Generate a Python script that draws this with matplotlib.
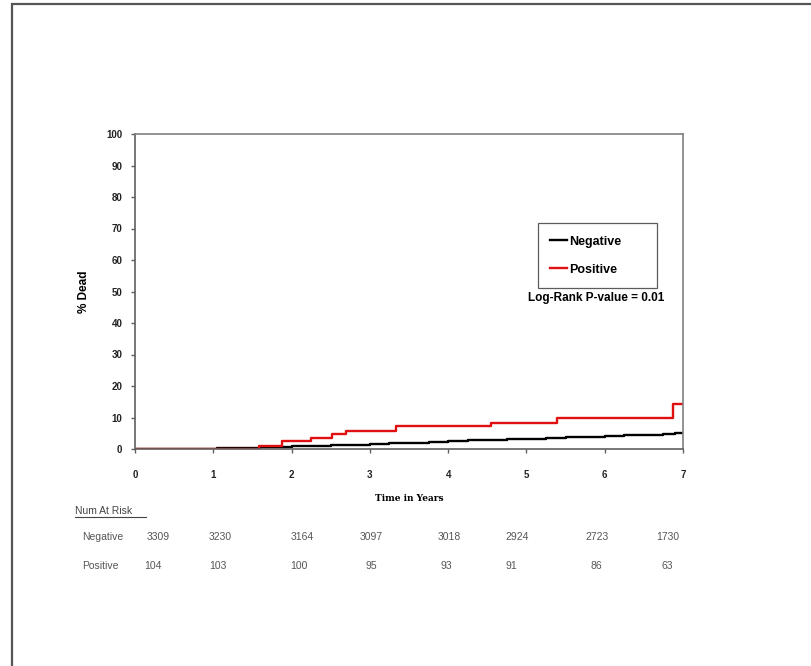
import matplotlib
matplotlib.use('Agg')
import matplotlib.pyplot as plt
from matplotlib.patches import Rectangle

plt.rcParams['font.family'] = ['Liberation Sans', 'DejaVu Sans']

# Cumulative % dead, step curves (time in years, value after the step)
neg_times = [0, 1.05, 1.6, 1.75, 2.0, 2.25, 2.5, 2.75, 3.0, 3.25, 3.5, 3.75, 4.0,
             4.25, 4.5, 4.75, 5.0, 5.25, 5.5, 5.75, 6.0, 6.25, 6.5, 6.75, 6.9, 7.0]
neg_dead = [0, 0.4, 0.5, 0.6, 0.8, 1.0, 1.2, 1.4, 1.6, 1.8, 2.0, 2.3, 2.5,
            2.7, 2.9, 3.1, 3.3, 3.5, 3.7, 3.9, 4.2, 4.4, 4.6, 4.8, 5.0, 5.0]
pos_times = [0, 1.59, 1.88, 2.25, 2.52, 2.70, 3.34, 4.55, 5.39, 6.87, 7.0]
pos_dead = [0, 1.1, 2.5, 3.6, 4.7, 5.8, 7.2, 8.4, 10.0, 14.2, 14.2]

years = [0, 1, 2, 3, 4, 5, 6, 7]
neg_at_risk = [3309, 3230, 3164, 3097, 3018, 2924, 2723, 1730]
pos_at_risk = [104, 103, 100, 95, 93, 91, 86, 63]

W, H = 812, 666
fig = plt.figure(figsize=(W / 100, H / 100), dpi=100)

# page frame (open to the right and bottom, like a cropped page)
fig.patches.append(Rectangle((12 / W, -0.05), 1.05, 1.05 - 4 / H, transform=fig.transFigure,
                             fill=False, edgecolor='#555555', linewidth=1.6))

ax = fig.add_axes([135 / W, (H - 449) / H, 548 / W, 315 / H])
ax.step(neg_times, neg_dead, where='post', color='black', linewidth=1.7, label='Negative')
ax.step(pos_times, pos_dead, where='post', color='#e01010', linewidth=1.7, label='Positive')

ax.set_xlim(0, 7)
ax.set_ylim(0, 100)
ax.set_xticks(years)
ax.set_yticks(range(0, 101, 10))
for s in ax.spines.values():
    s.set_color('#808080')
    s.set_linewidth(1.2)
ax.spines['left'].set_color('#606060')
ax.spines['bottom'].set_color('#606060')
ax.tick_params(direction='out', length=3, width=1, color='#606060',
               labelsize=7, labelcolor='#222222')
ax.tick_params(axis='x', pad=12)
ax.tick_params(axis='y', pad=6)
for lab in ax.get_xticklabels() + ax.get_yticklabels():
    lab.set_fontweight('bold')

ax.set_ylabel('% Dead', fontsize=8.5, fontweight='bold', labelpad=12)
ax.set_xlabel('Time in Years', fontsize=6.5, fontweight='bold', family='DejaVu Serif', labelpad=10)

leg = ax.legend(loc='upper left',
                bbox_to_anchor=((538 - 135) / 548, (449 - 223) / 315, 119 / 548, 0),
                mode='expand', frameon=True, fancybox=False, fontsize=9, handlelength=1.3,
                handletextpad=0.2, borderpad=1.0, labelspacing=1.3, borderaxespad=0)
leg.get_frame().set_edgecolor('#333333')
leg.get_frame().set_linewidth(0.9)
for t in leg.get_texts():
    t.set_fontweight('bold')

ax.text((596 - 135) / 548, (449 - 298) / 315, 'Log-Rank P-value = 0.01', transform=ax.transAxes,
        ha='center', va='center', fontsize=8.5, fontweight='bold')

# number at risk table
fig.text(75 / W, 1 - 511 / H, 'Num At Risk', fontsize=7.5, color='#444444', va='center')
fig.add_artist(plt.Line2D([75 / W, 146 / W], [1 - 517 / H, 1 - 517 / H], color='#444444', linewidth=0.8))
neg_x = [158, 220, 302, 371, 449, 517, 597, 668]
pos_x = [153, 218, 299, 371, 446, 511, 596, 667]
fig.text(82 / W, 1 - 537 / H, 'Negative', fontsize=7.5, color='#555555', va='center')
fig.text(82 / W, 1 - 566 / H, 'Positive', fontsize=7.5, color='#555555', va='center')
for xp, v in zip(neg_x, neg_at_risk):
    fig.text(xp / W, 1 - 537 / H, str(v), fontsize=7.5, color='#555555', ha='center', va='center')
for xp, v in zip(pos_x, pos_at_risk):
    fig.text(xp / W, 1 - 566 / H, str(v), fontsize=7.5, color='#555555', ha='center', va='center')

fig.savefig('out.png', dpi=100, facecolor='white')
